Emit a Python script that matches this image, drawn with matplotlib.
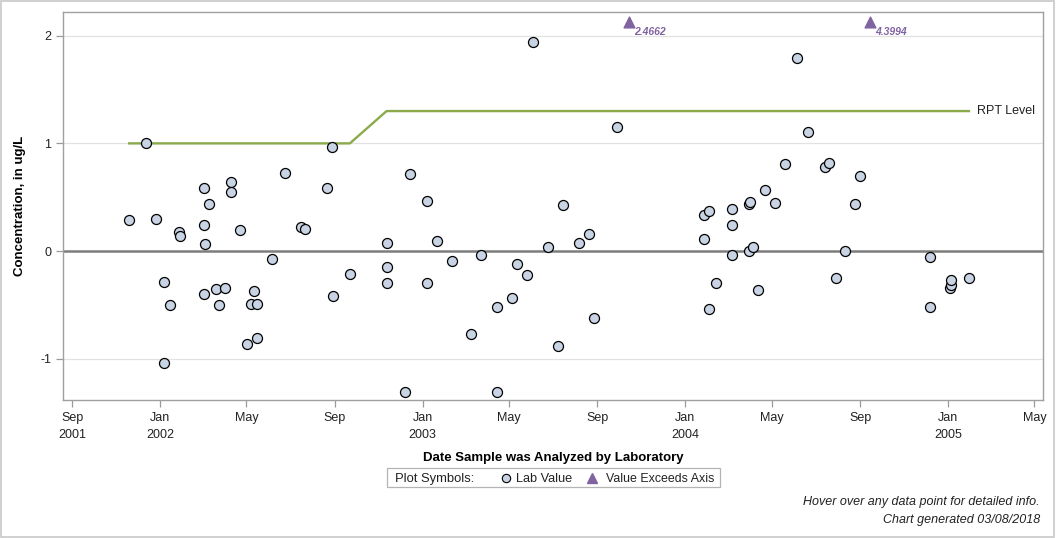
import pandas as pd
import numpy as np
import matplotlib
matplotlib.use('Agg')
import matplotlib.pyplot as plt
from matplotlib.lines import Line2D
from matplotlib.patches import Rectangle

plt.rcParams['font.family'] = ['Liberation Sans', 'DejaVu Sans']

# lab values (date analyzed, concentration ug/L)
sample_dates = [
    '2001-11-19', '2001-12-12', '2001-12-27', '2002-01-07', '2002-01-07', '2002-01-15',
    '2002-01-27', '2002-01-29', '2002-03-03', '2002-03-03', '2002-03-04', '2002-03-03',
    '2002-03-10', '2002-03-20', '2002-03-24', '2002-04-02', '2002-04-09', '2002-04-09',
    '2002-04-22', '2002-05-02', '2002-05-08', '2002-05-11', '2002-05-16', '2002-05-16',
    '2002-06-06', '2002-06-24', '2002-07-16', '2002-07-22', '2002-08-21', '2002-08-28',
    '2002-08-29', '2002-09-22', '2002-11-12', '2002-11-12', '2002-11-12', '2002-12-08',
    '2002-12-15', '2003-01-07', '2003-01-07', '2003-01-21', '2003-02-11', '2003-03-10',
    '2003-03-24', '2003-04-14', '2003-04-14', '2003-05-05', '2003-05-13', '2003-05-27',
    '2003-06-03', '2003-06-24', '2003-07-09', '2003-07-16', '2003-08-06', '2003-08-20',
    '2003-08-27', '2003-09-29', '2004-01-28', '2004-01-28', '2004-02-03', '2004-02-03',
    '2004-02-13', '2004-03-07', '2004-03-07', '2004-03-07', '2004-03-30', '2004-03-31',
    '2004-03-30', '2004-04-04', '2004-04-11', '2004-04-21', '2004-05-05', '2004-05-19',
    '2004-06-05', '2004-06-20', '2004-07-14', '2004-07-19', '2004-07-29', '2004-08-10',
    '2004-08-24', '2004-09-01', '2004-12-07', '2004-12-07', '2005-01-03', '2005-01-05',
    '2005-01-05', '2005-01-30',
]
sample_values = [
    0.285, 1.00, 0.295, -0.29, -1.035, -0.505,
    0.174, 0.14, 0.583, 0.239, 0.062, -0.40,
    0.434, -0.356, -0.505, -0.347, 0.639, 0.546,
    0.193, -0.859, -0.496, -0.375, -0.496, -0.803,
    -0.077, 0.723, 0.22, 0.202, 0.583, 0.965,
    -0.421, -0.217, 0.072, -0.152, -0.30, -1.305,
    0.713, 0.462, -0.298, 0.09, -0.096, -0.766,
    -0.037, -0.524, -1.305, -0.44, -0.121, -0.226,
    1.941, 0.034, -0.877, 0.425, 0.072, 0.155,
    -0.626, 1.151, 0.109, 0.335, 0.369, -0.542,
    -0.298, 0.388, 0.239, -0.037, 0.437, 0.456,
    0.0, 0.034, -0.366, 0.567, 0.447, 0.807,
    1.793, 1.104, 0.784, 0.816, -0.254, 0.0,
    0.434, 0.698, -0.059, -0.524, -0.347, -0.316,
    -0.273, -0.254,
]

# values above the axis max
exceed_dates = ['2003-10-15', '2004-09-14']
exceed_values = [2.4662, 4.3994]

# reporting level
rpt_dates = ['2001-11-19', '2002-09-22', '2002-11-12', '2005-01-30']
rpt_values = [1.0, 1.0, 1.3, 1.3]

tick_dates = ['2001-09-01', '2002-01-01', '2002-05-01', '2002-09-01', '2003-01-01', '2003-05-01',
              '2003-09-01', '2004-01-01', '2004-05-01', '2004-09-01', '2005-01-01', '2005-05-01']
tick_labels = ['Sep\n2001', 'Jan\n2002', 'May', 'Sep', 'Jan\n2003', 'May',
               'Sep', 'Jan\n2004', 'May', 'Sep', 'Jan\n2005', 'May']

y_max = 2.22
y_min = -1.383
cap_y = 2.13  # where exceeding values are drawn

lab_face = '#c8d4e4'
exceed_col = '#8064a2'

dates = pd.to_datetime(sample_dates)
ex_dates = pd.to_datetime(exceed_dates)

W, H = 1056, 538
fig = plt.figure(figsize=(W / 100, H / 100), dpi=100)
ax = fig.add_axes([63 / W, 1 - 400 / H, 980 / W, 388 / H])

# gridlines and zero line
for yv in [-1, 1, 2]:
    ax.axhline(yv, color='#e2e2e2', lw=0.9, zorder=0)
ax.axhline(0, color='#7d7d7d', lw=1.8, zorder=1)

ax.plot(pd.to_datetime(rpt_dates), rpt_values, color='#8aaa4b', lw=1.7, zorder=2)
ax.text(pd.Timestamp(rpt_dates[-1]) + pd.Timedelta(days=11), rpt_values[-1], 'RPT Level',
        fontsize=9, va='center', ha='left', color='#222222')

ax.scatter(dates, sample_values, s=52, facecolor=lab_face, edgecolor='black',
           linewidth=0.9, zorder=3)

ax.scatter(ex_dates, [cap_y] * len(ex_dates), marker='^', s=60, color=exceed_col, zorder=3)
for d, v in zip(ex_dates, exceed_values):
    ax.annotate(f'{v:.4f}', (d, cap_y), xytext=(4, -4), textcoords='offset points',
                fontsize=7.5, color=exceed_col, fontweight='bold', fontstyle='italic',
                ha='left', va='top')

ax.set_ylim(y_min, y_max)
ax.set_xlim(pd.Timestamp('2001-08-19'), pd.Timestamp('2005-05-13'))
ax.set_yticks([-1, 0, 1, 2])
ax.set_yticklabels(['-1', '0', '1', '2'])
ax.set_xticks(pd.to_datetime(tick_dates))
ax.set_xticklabels(tick_labels, linespacing=1.6)
ax.tick_params(axis='both', labelsize=9, color='#9a9a9a', length=5, width=0.9, labelcolor='#222222')

for s in ax.spines.values():
    s.set_color('#a0a0a0')
    s.set_linewidth(1.0)

ax.set_xlabel('Date Sample was Analyzed by Laboratory', fontsize=9.5, fontweight='bold', labelpad=8)
ax.set_ylabel('Concentration, in ug/L', fontsize=9.5, fontweight='bold', labelpad=10)

# legend box under the x label
ly = 1 - 477.5 / H
lb = 1 - 482 / H  # text baseline
fig.patches.append(Rectangle((387 / W, 1 - 487 / H), 333 / W, 19 / H, transform=fig.transFigure,
                             fill=False, edgecolor='#b4b4b4', linewidth=0.9))
fig.text(395 / W, lb, 'Plot Symbols:', fontsize=9.4, va='baseline', ha='left', color='#222222')
fig.add_artist(Line2D([506 / W], [ly], marker='o', markersize=6, markerfacecolor=lab_face,
                      markeredgecolor='black', markeredgewidth=0.8, transform=fig.transFigure))
fig.text(516 / W, lb, 'Lab Value', fontsize=9.2, va='baseline', ha='left', color='#222222')
fig.add_artist(Line2D([592 / W], [ly], marker='^', markersize=7, color=exceed_col,
                      transform=fig.transFigure))
fig.text(606 / W, lb, 'Value Exceeds Axis', fontsize=8.9, va='baseline', ha='left', color='#222222')

fig.text(1040 / W, 1 - 502 / H, 'Hover over any data point for detailed info.',
         ha='right', va='center', fontsize=9, fontstyle='italic', color='#222222')
fig.text(1040 / W, 1 - 520 / H, 'Chart generated 03/08/2018',
         ha='right', va='center', fontsize=9, fontstyle='italic', color='#222222')

fig.patches.append(Rectangle((0.0005, 0.001), 0.998, 0.997, transform=fig.transFigure,
                             fill=False, edgecolor='#c8c8c8', linewidth=1.2))

fig.savefig('out.png', dpi=100)
